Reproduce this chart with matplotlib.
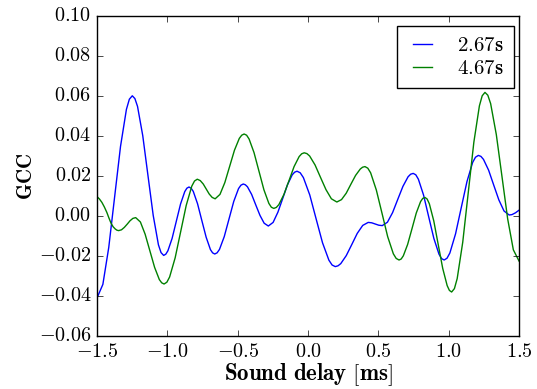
import matplotlib
matplotlib.use("Agg")
import matplotlib.pyplot as plt
from matplotlib.ticker import FuncFormatter, MultipleLocator

plt.style.use("classic")
plt.rcParams["font.family"] = "serif"
plt.rcParams["font.serif"] = ["cmr10", "DejaVu Serif"]
plt.rcParams["mathtext.fontset"] = "cm"

# Series 2.67s (blue)
x_267 = [-1.5, -1.4582, -1.4163, -1.3745, -1.3327, -1.2908, -1.2699, -1.249,
         -1.2304, -1.2118, -1.1747, -1.1375, -1.1003, -1.0632, -1.0446, -1.026,
         -1.011, -0.996, -0.966, -0.936, -0.906, -0.876, -0.861, -0.846,
         -0.8308, -0.8155, -0.785, -0.7545, -0.724, -0.6935, -0.6783, -0.663,
         -0.6461, -0.6292, -0.5953, -0.5615, -0.5277, -0.4938, -0.4769, -0.46,
         -0.4452, -0.4303, -0.4007, -0.371, -0.3413, -0.3117, -0.282,
         -0.248, -0.214, -0.18, -0.146, -0.112, -0.095, -0.078,
         -0.0553, -0.0327, 0.0127, 0.058, 0.1033, 0.1487, 0.1713, 0.194,
         0.2135, 0.233, 0.272, 0.311, 0.35, 0.389, 0.428,
         0.453, 0.478, 0.503, 0.528,
         0.5647, 0.6013, 0.638, 0.6747, 0.7113, 0.7297, 0.748,
         0.7663, 0.7847, 0.8213, 0.858, 0.8947, 0.9313, 0.9497, 0.968,
         0.9883, 1.0085, 1.049, 1.0895, 1.13, 1.1705, 1.1907, 1.211,
         1.2293, 1.2475, 1.284, 1.3205, 1.357, 1.3935, 1.43,
         1.45, 1.475, 1.5]
y_267 = [-0.0410, -0.0342, -0.0157, 0.0096, 0.0348, 0.0533, 0.0584, 0.0601,
         0.0587, 0.0548, 0.0402, 0.0202, 0.0003, -0.0144, -0.0183, -0.0197,
         -0.0191, -0.0174, -0.0112, -0.0026, 0.0060, 0.0122, 0.0139, 0.0145,
         0.0139, 0.0123, 0.0061, -0.0023, -0.0106, -0.0168, -0.0184, -0.0190,
         -0.0184, -0.0167, -0.0103, -0.0015, 0.0073, 0.0137, 0.0154, 0.0160,
         0.0156, 0.0146, 0.0108, 0.0055, 0.0003, -0.0036, -0.0050,
         -0.0032, 0.0019, 0.0087, 0.0156, 0.0206, 0.0219, 0.0224,
         0.0216, 0.0192, 0.0105, -0.0015, -0.0134, -0.0221, -0.0245, -0.0253,
         -0.0249, -0.0238, -0.0198, -0.0143, -0.0087, -0.0047, -0.0032,
         -0.0034, -0.0040, -0.0046, -0.0048,
         -0.0031, 0.0017, 0.0083, 0.0148, 0.0196, 0.0209, 0.0213,
         0.0206, 0.0184, 0.0105, -0.0004, -0.0112, -0.0191, -0.0213, -0.0220,
         -0.0211, -0.0185, -0.0089, 0.0042, 0.0172, 0.0268, 0.0294, 0.0303,
         0.0298, 0.0283, 0.0229, 0.0154, 0.0080, 0.0025, 0.0005,
         0.0007, 0.0016, 0.0029]

# Series 4.67s (green)
x_467 = [-1.5, -1.4825, -1.465, -1.4475, -1.43, -1.415, -1.40, -1.385,
         -1.37, -1.358, -1.346,
         -1.3258, -1.3057, -1.2855, -1.2653, -1.2452, -1.225,
         -1.1913, -1.1577, -1.124, -1.0903, -1.0567, -1.0398, -1.023,
         -1.0033, -0.9837, -0.9443, -0.905, -0.8657, -0.8263, -0.8067, -0.787,
         -0.7658, -0.7447, -0.7235, -0.7023, -0.6812, -0.66,
         -0.6257, -0.5913, -0.557, -0.5227, -0.4883, -0.4712, -0.454,
         -0.4364, -0.4188, -0.3837, -0.3485, -0.3133, -0.2782, -0.2606, -0.243,
         -0.225, -0.207, -0.171, -0.135, -0.099, -0.063, -0.045, -0.027,
         -0.0077, 0.0117, 0.0503, 0.089, 0.1277, 0.1663, 0.205,
         0.2383, 0.2717, 0.305, 0.3383, 0.3717, 0.3883, 0.405,
         0.4252, 0.4453, 0.4857, 0.526, 0.5663, 0.6067, 0.6268, 0.647,
         0.6623, 0.6777, 0.7083, 0.739, 0.7697, 0.8003, 0.8157, 0.831,
         0.8468, 0.8627, 0.8943, 0.926, 0.9577, 0.9893, 1.0052, 1.021,
         1.0408, 1.0605, 1.1, 1.1395, 1.179, 1.2185, 1.2382, 1.258,
         1.2782, 1.2983, 1.3387, 1.379, 1.4193, 1.4597, 1.5]
y_467 = [0.0097, 0.0085, 0.0068, 0.0045, 0.0018, -0.0010, -0.0036, -0.0054,
         -0.0065, -0.0071, -0.0073,
         -0.0069, -0.0057, -0.0041, -0.0024, -0.0012, -0.0008,
         -0.0030, -0.0091, -0.0174, -0.0257, -0.0318, -0.0334, -0.0340,
         -0.0331, -0.0305, -0.0209, -0.0078, 0.0053, 0.0149, 0.0175, 0.0184,
         0.0177, 0.0160, 0.0135, 0.0110, 0.0093, 0.0086,
         0.0108, 0.0167, 0.0248, 0.0329, 0.0388, 0.0404, 0.0410,
         0.0404, 0.0385, 0.0317, 0.0224, 0.0131, 0.0063, 0.0044, 0.0038,
         0.0043, 0.0057, 0.0108, 0.0177, 0.0247, 0.0297, 0.0311, 0.0316,
         0.0312, 0.0300, 0.0255, 0.0193, 0.0132, 0.0086, 0.0070,
         0.0082, 0.0114, 0.0159, 0.0203, 0.0235, 0.0244, 0.0247,
         0.0239, 0.0216, 0.0130, 0.0014, -0.0103, -0.0189, -0.0212, -0.0220,
         -0.0215, -0.0199, -0.0142, -0.0064, 0.0015, 0.0072, 0.0088, 0.0093,
         0.0085, 0.0061, -0.0025, -0.0144, -0.0262, -0.0348, -0.0372, -0.0380,
         -0.0363, -0.0313, -0.0131, 0.0119, 0.0369, 0.0551, 0.0601, 0.0618,
         0.0604, 0.0562, 0.0407, 0.0197, -0.0014, -0.0169, -0.0225]

labels = [r"$\mathbf{2.67s}$", r"$\mathbf{4.67s}$"]
colors = ["b", "g"]

fig = plt.figure(figsize=(5.37, 3.89), dpi=100)
fig.patch.set_facecolor("white")
ax = fig.add_axes([0.1806, 0.1362, 0.7859, 0.8227])
ax.plot(x_267, y_267, color=colors[0], lw=1.0, label=labels[0])
ax.plot(x_467, y_467, color=colors[1], lw=1.0, label=labels[1])

ax.set_xlim(-1.5, 1.5)
ax.set_ylim(-0.06, 0.10)
ax.xaxis.set_major_locator(MultipleLocator(0.5))
ax.yaxis.set_major_locator(MultipleLocator(0.02))

def fmt(v, dec):
    s = f"{v:.{dec}f}"
    if s.startswith("-") and float(s) == 0:
        s = s[1:]
    return "$" + s + "$"

ax.xaxis.set_major_formatter(FuncFormatter(lambda v, p: fmt(v, 1)))
ax.yaxis.set_major_formatter(FuncFormatter(lambda v, p: fmt(v, 2)))
ax.tick_params(axis="y", labelsize=14.5, pad=4)
ax.tick_params(axis="x", labelsize=14.5, pad=5)

ax.set_xlabel(r"$\mathbf{Sound\ delay\ [ms]}$", fontsize=16.5, labelpad=0)
ax.set_ylabel(r"$\mathbf{GCC}$", fontsize=15, labelpad=2)

leg = ax.legend(loc="upper right", bbox_to_anchor=(0.9882, 0.969),
                borderaxespad=0, fontsize=15, handlelength=1.5,
                handletextpad=0.9, labelspacing=0.22, borderpad=0.5)
leg.get_frame().set_linewidth(1.0)

fig.savefig("out.png", dpi=100, facecolor="white")
